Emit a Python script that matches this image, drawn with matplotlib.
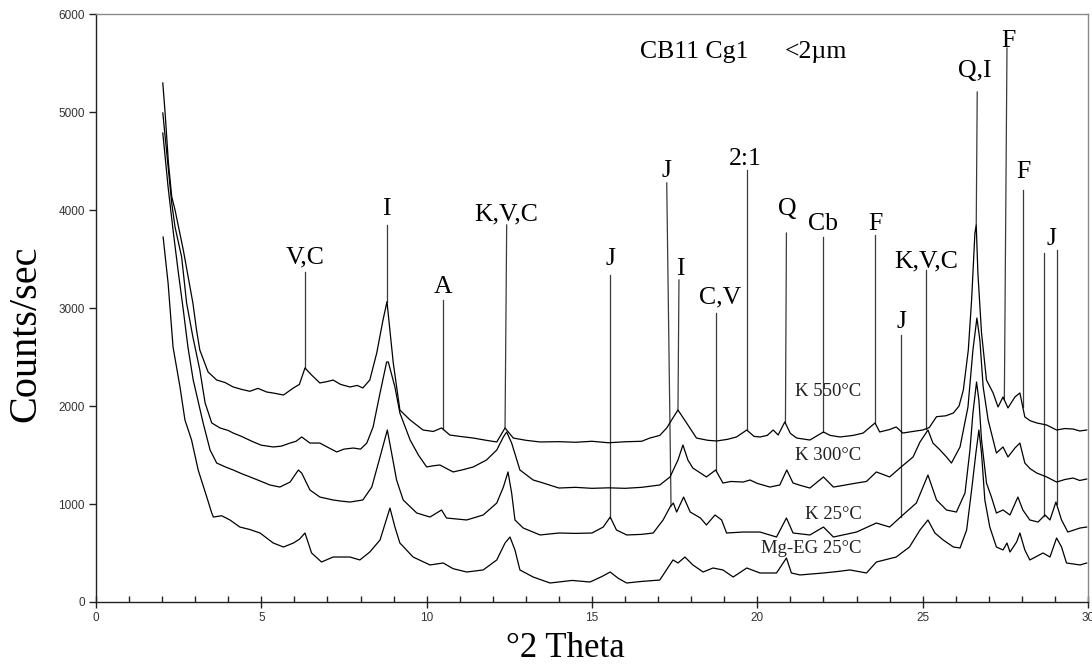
import numpy as np
import matplotlib
matplotlib.use("Agg")
import matplotlib.pyplot as plt
from matplotlib.ticker import MultipleLocator

# ---------------- data ----------------
k550_x = [2.02, 2.09, 2.19, 2.29, 2.39, 2.64, 2.93, 3.04, 3.14, 3.39, 3.65, 3.9, 4.15, 4.4, 4.65, 4.9, 5.16, 5.4,
          5.67, 5.97, 6.15, 6.32, 6.52, 6.77, 7.0, 7.17, 7.4, 7.68, 7.9, 8.07, 8.28, 8.49, 8.68, 8.8, 8.99, 9.19,
          9.5, 9.89, 10.2, 10.45, 10.7, 11.0, 11.41, 11.8, 12.12, 12.37, 12.62, 13.0, 13.43, 14.0, 14.5, 15.0,
          15.5, 16.0, 16.5, 16.75, 17.05, 17.26, 17.45, 17.6, 17.86, 18.16, 18.5, 18.77, 19.1, 19.37, 19.68, 19.9,
          20.08, 20.3, 20.48, 20.63, 20.83, 21.0, 21.19, 21.59, 22.0, 22.2, 22.5, 22.9, 23.2, 23.56, 23.7, 24.0,
          24.2, 24.4, 24.7, 25.0, 25.2, 25.42, 25.7, 25.93, 26.1, 26.23, 26.38, 26.48, 26.58, 26.62, 26.67, 26.78,
          26.93, 27.13, 27.28, 27.43, 27.58, 27.79, 27.94, 28.09, 28.25, 28.45, 28.75, 29.05, 29.3, 29.55, 29.75,
          29.96]
k550_y = [5296, 4990, 4480, 4136, 4000, 3592, 3051, 2776, 2571, 2347, 2265, 2240, 2194, 2170, 2150, 2180, 2143, 2130,
          2112, 2184, 2220, 2388, 2316, 2235, 2250, 2265, 2220, 2194, 2210, 2184, 2265, 2541, 2878, 3064, 2439, 1959,
          1857, 1755, 1740, 1776, 1704, 1690, 1673, 1650, 1633, 1776, 1673, 1650, 1633, 1636, 1630, 1640,
          1625, 1635, 1640, 1673, 1700, 1776, 1880, 1959, 1827, 1673, 1650, 1643, 1660, 1684, 1755, 1690,
          1684, 1700, 1755, 1704, 1837, 1720, 1673, 1653, 1735, 1700, 1684, 1700, 1724, 1827, 1735, 1760,
          1786, 1724, 1740, 1755, 1780, 1891, 1900, 1929, 2000, 2163, 2571, 3082, 3765, 3847, 3357, 2745,
          2265, 2133, 1990, 2092, 1980, 2092, 2133, 1888, 1850, 1827, 1806, 1755, 1770, 1765, 1745,
          1755]

k300_x = [2.02, 2.14, 2.29, 2.39, 2.59, 2.74, 2.93, 3.14, 3.30, 3.5, 3.75, 4.0, 4.15, 4.4, 4.76, 5.0, 5.36, 5.6,
          5.87, 6.05, 6.22, 6.47, 6.77, 7.0, 7.28, 7.5, 7.78, 8.0, 8.19, 8.38, 8.59, 8.79, 8.84, 9.04, 9.19, 9.5,
          9.75, 10.0, 10.2, 10.4, 10.8, 11.1, 11.41, 11.81, 12.12, 12.32, 12.42, 12.57, 12.82, 13.22, 13.43, 14.0,
          14.5, 15.0, 15.5, 16.0, 16.5, 17.05, 17.36, 17.6, 17.75, 17.9, 18.05, 18.46, 18.74, 18.96, 19.2, 19.57,
          19.78, 20.0, 20.38, 20.68, 20.89, 21.08, 21.3, 21.59, 22.0, 22.3, 22.6, 23.0, 23.3, 23.6, 24.0, 24.31,
          24.71, 24.92, 25.16, 25.31, 25.5, 25.72, 25.87, 26.13, 26.37, 26.52, 26.64, 26.73, 26.83, 26.98, 27.23,
          27.43, 27.58, 27.79, 27.94, 28.09, 28.25, 28.45, 28.75, 29.05, 29.3, 29.55, 29.75, 29.96]
k300_y = [4990, 4582, 4071, 3827, 3520, 3051, 2704, 2367, 2031, 1827, 1776, 1750, 1724, 1690, 1633, 1600, 1582, 1590,
          1622, 1640, 1684, 1622, 1622, 1580, 1531, 1560, 1571, 1560, 1622, 1786, 2133, 2449, 2449, 2194, 1929, 1653,
          1500, 1378, 1390, 1398, 1327, 1350, 1378, 1449, 1551, 1684, 1735, 1622, 1347, 1245, 1224, 1163,
          1170, 1160, 1165, 1160, 1170, 1194, 1276, 1449, 1602, 1449, 1367, 1276, 1347, 1214, 1230, 1224,
          1245, 1210, 1173, 1194, 1347, 1214, 1190, 1163, 1276, 1173, 1190, 1214, 1230, 1327, 1276, 1367,
          1480, 1633, 1755, 1622, 1560, 1480, 1418, 1582, 1990, 2571, 2898, 2673, 2194, 1857, 1520,
          1582, 1480, 1571, 1622, 1418, 1360, 1316, 1276, 1224, 1250, 1265, 1240, 1255]

k25_x = [2.02, 2.18, 2.33, 2.48, 2.64, 2.78, 2.94, 3.24, 3.45, 3.65, 3.9, 4.15, 4.4, 4.66, 5.0, 5.26, 5.56, 5.87,
         6.12, 6.22, 6.47, 6.77, 7.17, 7.4, 7.68, 8.07, 8.34, 8.59, 8.81, 8.94, 9.09, 9.29, 9.7, 10.1, 10.45, 10.6,
         11.21, 11.71, 12.12, 12.32, 12.46, 12.57, 12.67, 12.92, 13.43, 14.0, 14.5, 15.0, 15.34, 15.55, 15.74,
         16.05, 16.5, 16.85, 17.15, 17.36, 17.46, 17.56, 17.77, 17.97, 18.28, 18.46, 18.72, 18.92, 19.07, 19.57,
         20.08, 20.58, 20.88, 21.08, 21.59, 22.0, 22.3, 23.0, 23.6, 24.0, 24.4, 24.81, 25.16, 25.42, 25.72, 26.02,
         26.28, 26.43, 26.52, 26.63, 26.7, 26.78, 26.93, 27.08, 27.23, 27.43, 27.64, 27.88, 28.03, 28.24, 28.49,
         28.7, 28.85, 29.03, 29.2, 29.39, 29.76, 29.96]
k25_y = [4786, 4235, 3796, 3388, 2980, 2602, 2265, 1827, 1551, 1418, 1380, 1347, 1310, 1276, 1230, 1194, 1173, 1224,
         1347, 1316, 1143, 1071, 1041, 1030, 1020, 1041, 1173, 1480, 1755, 1520, 1245, 1041, 908, 867, 939, 857,
         837, 888, 1010, 1173, 1327, 1112, 837, 755, 684, 704, 700, 704, 765, 867, 735,
         684, 690, 704, 837, 969, 1010, 918, 1071, 918, 857, 786, 888, 837, 704, 714,
         714, 663, 857, 704, 684, 765, 663, 714, 806, 765, 888, 1010, 1296, 1041, 939, 918,
         1112, 1551, 1929, 2245, 2061, 1653, 1214, 1071, 908, 939, 888, 1071, 939, 837, 816,
         888, 837, 1020, 837, 714, 755, 765]

mgeg_x = [2.03, 2.18, 2.33, 2.54, 2.69, 2.89, 3.09, 3.35, 3.5, 3.55, 3.8, 4.05, 4.35, 4.65, 4.96, 5.36, 5.67, 5.97,
          6.15, 6.32, 6.52, 6.82, 7.17, 7.68, 7.98, 8.28, 8.59, 8.89, 9.04, 9.19, 9.59, 10.1, 10.5, 10.8, 11.21,
          11.71, 12.12, 12.37, 12.52, 12.67, 12.82, 13.22, 13.73, 14.4, 14.94, 15.3, 15.55, 15.8, 16.05, 16.5,
          17.05, 17.45, 17.6, 17.81, 18.05, 18.36, 18.66, 18.96, 19.27, 19.68, 20.08, 20.58, 20.88, 21.03, 21.29,
          22.0, 22.4, 22.8, 23.3, 23.6, 24.2, 24.6, 24.92, 25.16, 25.37, 25.62, 25.93, 26.13, 26.33, 26.48, 26.61,
          26.7, 26.78, 26.88, 27.03, 27.23, 27.43, 27.55, 27.64, 27.84, 27.94, 28.09, 28.24, 28.64, 28.85, 29.05,
          29.2, 29.35, 29.76, 29.96]
mgeg_y = [3724, 3255, 2602, 2194, 1857, 1653, 1347, 1071, 908, 867, 880, 837, 765, 740, 704, 602, 561, 602,
          640, 704, 500, 408, 459, 459, 429, 510, 633, 959, 765, 602, 459, 378, 398, 340, 306,
          327, 429, 602, 663, 531, 327, 255, 194, 220, 204, 260, 306, 240, 194, 210,
          224, 429, 398, 459, 378, 306, 347, 327, 255, 347, 296, 296, 449, 296, 276,
          296, 310, 327, 296, 408, 459, 561, 735, 837, 704, 633, 561, 551, 735, 1143, 1520,
          1755, 1520, 1041, 765, 561, 531, 602, 510, 612, 704, 531, 429, 500, 459, 653,
          561, 398, 378, 398]

series_names = ["K 550°C", "K 300°C", "K 25°C", "Mg-EG 25°C"]
series_x = [k550_x, k300_x, k25_x, mgeg_x]
series_y = [k550_y, k300_y, k25_y, mgeg_y]
name_label_y = [2102, 1449, 847, 500]   # baseline of the curve names
name_label_x = 23.15

# peak identification labels
peak_labels = ["V,C", "I", "A", "K,V,C", "J", "J", "I", "C,V", "2:1", "Q", "Cb", "F", "J", "K,V,C",
               "Q,I", "F", "F", "J"]
peak_label_x = [6.32, 8.79, 10.50, 12.42, 15.56, 17.26, 17.66, 18.87, 19.63, 20.89, 21.99, 23.56, 24.36,
                25.12, 26.58, 27.59, 28.04, 28.90]
peak_label_y = [3459, 3949, 3153, 3898, 3439, 4337, 3337, 3051, 4459, 3950, 3796, 3796, 2796, 3418,
                5357, 5666, 4327, 3643]

# marker lines: x at top, x at bottom, y at top, curve index they end on
line_x_top = [6.32, 8.80, 10.50, 12.42, 15.54, 17.26, 17.63, 18.74, 19.68, 20.88, 21.99, 23.56, 24.33,
              25.11, 26.65, 27.55, 28.03, 28.68, 29.05]
line_x_bot = [6.32, 8.80, 10.50, 12.37, 15.54, 17.39, 17.60, 18.74, 19.68, 20.85, 21.99, 23.56, 24.33,
              25.11, 26.62, 27.47, 28.03, 28.68, 29.05]
line_y_top = [3367, 3847, 3082, 3847, 3337, 4276, 3286, 2949, 4408, 3765, 3724, 3745, 2724,
              3388, 5204, 5653, 4204, 3561, 3592]
line_curve = [0, 0, 0, 0, 2, 2, 0, 1, 0, 0, 0, 0, 2, 0, 0, 0, 0, 2, 2]

title_parts = ["CB11 Cg1", "<2\u00b5m"]
title_x = [16.45, 20.84]
title_y = 5551

# ---------------- figure ----------------
fig = plt.figure(figsize=(10.92, 6.72), dpi=100)
ax = fig.add_axes([96 / 1092, 1 - 602 / 672, (1088 - 96) / 1092, (602 - 14) / 672])

serif = ["Liberation Serif", "DejaVu Serif"]
sans = ["Liberation Sans", "DejaVu Sans"]

for xs, ys in zip(series_x, series_y):
    ax.plot(xs, ys, color="black", lw=0.9, zorder=3)

for xt, xb, yt, ci in zip(line_x_top, line_x_bot, line_y_top, line_curve):
    yb = float(np.interp(xb, series_x[ci], series_y[ci]))
    ax.plot([xt, xb], [yt, yb], color="#3a3a3a", lw=0.9, zorder=2)

for lab, x, y in zip(peak_labels, peak_label_x, peak_label_y):
    ax.text(x, y, lab, ha="center", va="baseline", fontsize=18.5, family=serif, color="black")

for name, y in zip(series_names, name_label_y):
    ax.text(name_label_x, y, name, ha="right", va="baseline", fontsize=13.5, family=serif, color="#222222")

for t, x in zip(title_parts, title_x):
    ax.text(x, title_y, t, ha="left", va="baseline", fontsize=18.5, family=serif, color="black")

ax.set_xlim(0, 30)
ax.set_ylim(0, 6000)
ax.xaxis.set_major_locator(MultipleLocator(5))
ax.xaxis.set_minor_locator(MultipleLocator(1))
ax.yaxis.set_major_locator(MultipleLocator(1000))
ax.tick_params(axis="x", which="major", direction="inout", length=9, width=1, colors="#222222",
               labelsize=8.5, labelcolor="#333333", pad=3)
ax.tick_params(axis="x", which="minor", direction="in", length=4, width=1, colors="#222222")
ax.tick_params(axis="y", which="major", direction="out", length=5, width=1, colors="#222222",
               labelsize=8.5, labelcolor="#333333", pad=3)
for lab in ax.get_xticklabels() + ax.get_yticklabels():
    lab.set_family(sans)

for s in ["left", "bottom"]:
    ax.spines[s].set_color("#222222")
    ax.spines[s].set_linewidth(1.0)
for s in ["top", "right"]:
    ax.spines[s].set_color("#8a8a8a")
    ax.spines[s].set_linewidth(1.0)

fig.text(0.024, 0.503, "Counts/sec", rotation=90, ha="center", va="center", fontsize=29, family=serif)
fig.text(0.518, 0.022, "\u00b02 Theta", ha="center", va="baseline", fontsize=25, family=serif)

fig.savefig("out.png", dpi=100, facecolor="white")
